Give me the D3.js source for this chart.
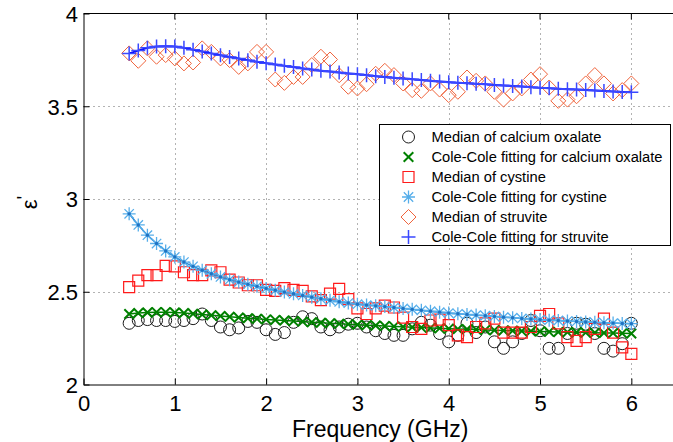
<!DOCTYPE html>
<html>
<head>
<meta charset="utf-8">
<script src="https://cdn.jsdelivr.net/npm/d3@7"></script>
<style>
body { margin: 0; background: #fff; }
text { font-family: Arial, "Liberation Sans", sans-serif; fill: #000; }
</style>
</head>
<body>
<div id="chart"></div>
<script>
var freq = [0.5, 0.6, 0.7, 0.8, 0.9,
  1.0, 1.1, 1.2, 1.3, 1.4, 1.5, 1.6, 1.7, 1.8, 1.9,
  2.0, 2.1, 2.2, 2.3, 2.4, 2.5, 2.6, 2.7, 2.8, 2.9,
  3.0, 3.1, 3.2, 3.3, 3.4, 3.5, 3.6, 3.7, 3.8, 3.9,
  4.0, 4.1, 4.2, 4.3, 4.4, 4.5, 4.6, 4.7, 4.8, 4.9,
  5.0, 5.1, 5.2, 5.3, 5.4, 5.5, 5.6, 5.7, 5.8, 5.9,
  6.0]

var oxalateMedian = [2.33, 2.345, 2.35, 2.345, 2.345,
  2.34, 2.345, 2.355, 2.38, 2.345, 2.31, 2.295, 2.305, 2.34, 2.335,
  2.295, 2.27, 2.28, 2.335, 2.365, 2.355, 2.31, 2.295, 2.31, 2.325,
  2.33, 2.31, 2.29, 2.275, 2.265, 2.265, 2.30, 2.335, 2.32, 2.275,
  2.23, 2.265, 2.33, 2.28, 2.31, 2.23, 2.195, 2.23, 2.275, 2.345,
  2.29, 2.195, 2.195, 2.275, 2.33, 2.325, 2.275, 2.195, 2.18, 2.22,
  2.33]

var oxalateFit = [2.38, 2.385, 2.388, 2.39, 2.39,
  2.388, 2.385, 2.381, 2.377, 2.373, 2.369, 2.365, 2.361, 2.357, 2.354,
  2.351, 2.348, 2.345, 2.342, 2.339, 2.336, 2.333, 2.33, 2.327, 2.325,
  2.322, 2.32, 2.318, 2.315, 2.313, 2.311, 2.309, 2.307, 2.305, 2.303,
  2.301, 2.299, 2.298, 2.296, 2.294, 2.293, 2.291, 2.29, 2.288, 2.287,
  2.286, 2.284, 2.283, 2.282, 2.281, 2.28, 2.279, 2.278, 2.277, 2.276,
  2.275]

var cystineMedian = [2.525, 2.56, 2.59, 2.59, 2.64,
  2.637, 2.605, 2.59, 2.59, 2.615, 2.605, 2.565, 2.55, 2.535, 2.535,
  2.51, 2.505, 2.52, 2.51, 2.505, 2.475, 2.455, 2.49, 2.515, 2.46,
  2.41, 2.38, 2.41, 2.425, 2.415, 2.36, 2.31, 2.30, 2.345, 2.35,
  2.32, 2.265, 2.255, 2.31, 2.33, 2.355, 2.28, 2.28, 2.28, 2.31,
  2.37, 2.38, 2.33, 2.255, 2.235, 2.255, 2.30, 2.355, 2.28, 2.20,
  2.165]

var cystineFit = [2.92, 2.86, 2.805, 2.76, 2.72,
  2.688, 2.66, 2.637, 2.616, 2.597, 2.58, 2.565, 2.552, 2.54, 2.529,
  2.518, 2.508, 2.498, 2.489, 2.48, 2.471, 2.462, 2.454, 2.446, 2.439,
  2.433, 2.428, 2.424, 2.42, 2.415, 2.41, 2.405, 2.40, 2.395, 2.39,
  2.385, 2.381, 2.378, 2.374, 2.371, 2.367, 2.363, 2.36, 2.356, 2.353,
  2.35, 2.347, 2.345, 2.342, 2.34, 2.337, 2.335, 2.333, 2.331, 2.329,
  2.328]

var struviteMedian = [3.785, 3.745, 3.812, 3.767, 3.776,
  3.758, 3.731, 3.736, 3.812, 3.793, 3.758, 3.749, 3.712, 3.731, 3.793,
  3.793, 3.644, 3.626, 3.658, 3.658, 3.722, 3.767, 3.752, 3.667, 3.605,
  3.596, 3.619, 3.675, 3.691, 3.668, 3.623, 3.587, 3.583, 3.623, 3.59,
  3.56, 3.578, 3.655, 3.637, 3.623, 3.578, 3.536, 3.569, 3.596, 3.644,
  3.673, 3.601, 3.529, 3.536, 3.554, 3.623, 3.668, 3.623, 3.569, 3.587,
  3.623]

var struviteFit = [3.785, 3.80, 3.815, 3.822, 3.824,
  3.822, 3.815, 3.805, 3.795, 3.785, 3.775, 3.766, 3.757, 3.748, 3.74,
  3.732, 3.725, 3.718, 3.711, 3.704, 3.698, 3.692, 3.687, 3.682, 3.677,
  3.672, 3.667, 3.662, 3.658, 3.654, 3.65, 3.646, 3.642, 3.638, 3.634,
  3.63, 3.627, 3.624, 3.621, 3.618, 3.615, 3.612, 3.609, 3.606, 3.603,
  3.60, 3.597, 3.595, 3.592, 3.59, 3.587, 3.585, 3.582, 3.58, 3.577,
  3.575]

var xTicks = [0, 1, 2, 3, 4, 5, 6]
var yTicks = [2, 2.5, 3, 3.5, 4]
var legendLabels = [
  'Median of calcium oxalate',
  'Cole-Cole fitting for calcium oxalate',
  'Median of cystine',
  'Cole-Cole fitting for cystine',
  'Median of struvite',
  'Cole-Cole fitting for struvite'
]

var W = 673, H = 442
var x = d3.scaleLinear().domain([0, 6.5]).range([83.5, 677])
var y = d3.scaleLinear().domain([2, 4]).range([384.5, 13.5])

var svg = d3.select('#chart').append('svg').attr('width', W).attr('height', H)
svg.append('rect').attr('width', W).attr('height', H).attr('fill', '#fff')

// dotted grid
var grid = svg.append('g').attr('stroke', '#666').attr('stroke-width', 1).attr('stroke-dasharray', '1,4')
grid.selectAll('line.v').data(xTicks.slice(1)).join('line')
  .attr('x1', d => Math.round(x(d)) + .5).attr('x2', d => Math.round(x(d)) + .5)
  .attr('y1', y(4)).attr('y2', y(2))
grid.selectAll('line.h').data([2.5, 3, 3.5]).join('line')
  .attr('y1', d => Math.round(y(d)) + .5).attr('y2', d => Math.round(y(d)) + .5)
  .attr('x1', x(0)).attr('x2', x(6.5))

// frame and axes
var xAxis = d3.axisBottom(x).tickValues(xTicks).tickSizeInner(-6).tickSizeOuter(0)
  .tickPadding(11).tickFormat(d3.format(''))
var yAxis = d3.axisLeft(y).tickValues(yTicks).tickSizeInner(-6).tickSizeOuter(0)
  .tickPadding(5.5).tickFormat(d3.format(''))

var xg = svg.append('g').attr('transform', 'translate(0,' + y(2) + ')').call(xAxis)
var yg = svg.append('g').attr('transform', 'translate(' + x(0) + ',0)').call(yAxis)
;[xg, yg].forEach(function(g){
  g.selectAll('path, line').attr('stroke', '#000')
  g.selectAll('text').attr('font-size', 22).attr('fill', '#000')
    .style('font-family', 'Arial, "Liberation Sans", sans-serif')
})
yg.selectAll('text').attr('dy', '0.36em')

var topAxis = svg.append('g').attr('transform', 'translate(0,' + y(4) + ')')
topAxis.append('line').attr('x1', x(0)).attr('x2', x(6.5)).attr('stroke', '#000')
topAxis.selectAll('line.t').data(xTicks.slice(1)).join('line')
  .attr('x1', d => x(d)).attr('x2', d => x(d)).attr('y1', 0).attr('y2', 6).attr('stroke', '#000')

svg.append('text').attr('x', x(3.25)).attr('y', 436.5)
  .attr('text-anchor', 'middle').attr('font-size', 23).text('Frequency (GHz)')

var yl = svg.append('text').attr('transform', 'translate(37,202.5) rotate(-90)')
  .attr('text-anchor', 'middle').attr('font-size', 22)
yl.append('tspan').text('ε')
yl.append('tspan').attr('dy', '-0.3em').attr('font-size', 20).text("'")

// marker shapes
function circle(r){ return d3.symbol().type(d3.symbolCircle).size(Math.PI * r * r)() }
function square(s){ return d3.symbol().type(d3.symbolSquare).size(s * s)() }
function diamond(h){ return 'M0,' + -h + 'L' + h + ',0L0,' + h + 'L' + -h + ',0Z' }
function plus(h){ return 'M' + -h + ',0H' + h + 'M0,' + -h + 'V' + h }
function times(h){ return 'M' + -h + ',' + -h + 'L' + h + ',' + h + 'M' + -h + ',' + h + 'L' + h + ',' + -h }
function asterisk(h){ return plus(h) + times(h * .72) }

var series = [
  {values: oxalateMedian, d: circle(6), color: '#1a1a1a', width: 1},
  {values: oxalateFit, d: times(4.8), color: '#008000', width: 2, line: '#008000', lineWidth: 1.5},
  {values: cystineMedian, d: square(11), color: '#ff1a1a', width: 1.2},
  {values: cystineFit, d: asterisk(6.5), color: '#56aeea', width: 1.3, line: '#2b8ad6', lineWidth: 1.5, dot: '#1f72c2'},
  {values: struviteMedian, d: diamond(7.5), color: '#f0643c', width: 1},
  {values: struviteFit, d: plus(7), color: '#3a48ff', width: 1.5, line: '#0000ff', lineWidth: 2}
]

var line = d3.line().x((d, i) => x(freq[i])).y(d => y(d))

series.forEach(function(s){
  var g = svg.append('g')
  if (s.line) g.append('path').attr('d', line(s.values)).attr('fill', 'none')
    .attr('stroke', s.line).attr('stroke-width', s.lineWidth)
  g.selectAll('path.m').data(s.values).join('path')
    .attr('transform', (d, i) => 'translate(' + x(freq[i]) + ',' + y(d) + ')')
    .attr('d', s.d).attr('fill', 'none')
    .attr('stroke', s.color).attr('stroke-width', s.width)
  if (s.dot) g.selectAll('circle').data(s.values).join('circle')
    .attr('cx', (d, i) => x(freq[i])).attr('cy', d => y(d)).attr('r', 1.7).attr('fill', s.dot)
})

// legend
var lg = svg.append('g').attr('transform', 'translate(379.5,124.5)')
lg.append('rect').attr('width', 291).attr('height', 121).attr('fill', '#fff').attr('stroke', '#000')
var row = lg.selectAll('g').data(series).join('g')
  .attr('transform', (d, i) => 'translate(0,' + (12.5 + 20 * i) + ')')
row.append('path').attr('transform', 'translate(29,0)').attr('d', d => d.d).attr('fill', 'none')
  .attr('stroke', d => d.color).attr('stroke-width', d => d.width)
row.append('text').attr('x', 52).attr('dy', '0.35em').attr('font-size', 14.7).attr('fill', '#222')
  .text((d, i) => legendLabels[i])
</script>
</body>
</html>
